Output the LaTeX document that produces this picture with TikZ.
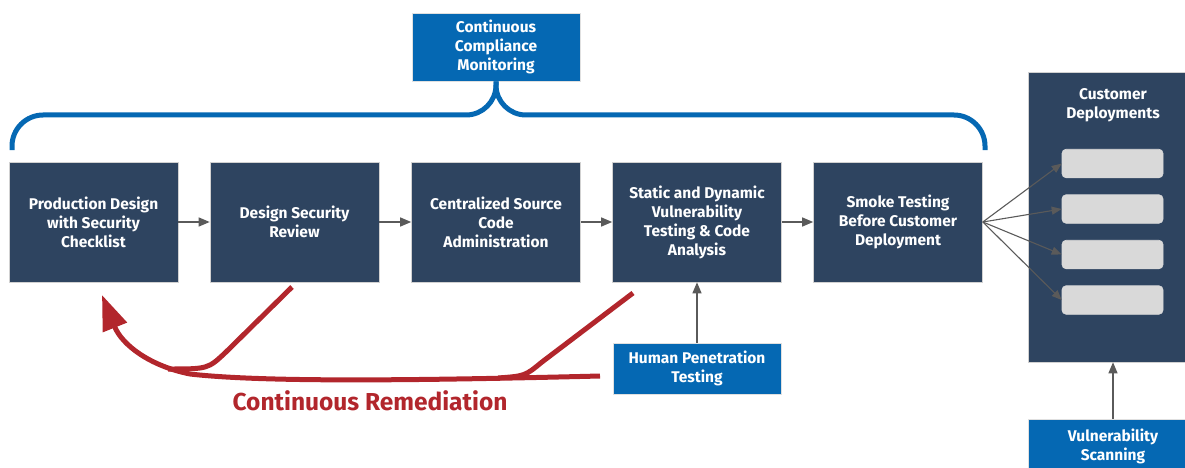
\documentclass[tikz,border=0pt]{standalone}
\usepackage{fontspec}
\setmainfont{Fira Sans}
\usetikzlibrary{arrows.meta,calc}
\definecolor{navy}{HTML}{2E4460}
\definecolor{brand}{HTML}{0568B3}
\definecolor{remed}{HTML}{B2262C}
\definecolor{slotgrey}{HTML}{D9D9D9}
\definecolor{flowgrey}{HTML}{5A5A5A}
\begin{document}
\begin{tikzpicture}[x=1pt,y=-1pt,
  boxfont/.style={font=\bfseries\fontsize{15.5}{19}\selectfont},
  stagebox/.style={boxfont, fill=navy, draw=black!18, line width=0.6pt,
    minimum width=169pt, minimum height=120pt, text=white, align=center, inner sep=2pt},
  bluebox/.style={boxfont, fill=brand, draw=black!12, line width=0.6pt,
    text=white, align=center, inner sep=2pt},
  slot/.style={fill=slotgrey, draw=white!85!black, line width=0.6pt, rounded corners=4pt,
    minimum width=101pt, minimum height=28.5pt, inner sep=0pt},
  whitetext/.style={boxfont, text=white, align=center, inner sep=0pt},
  flow/.style={draw=flowgrey, line width=1.3pt, -{Triangle[length=11pt,width=9pt]}},
  brace/.style={draw=brand, line width=5pt},
  remline/.style={draw=remed, line width=5pt},
  remtext/.style={text=remed, font=\bfseries\fontsize{24.5}{28}\selectfont, inner sep=0pt}
]
\useasboundingbox (0,0) rectangle (1185,468);

% main pipeline
\node[stagebox] (s1) at (93.5,222) {Production Design\\with Security\\Checklist};
\node[stagebox] (s2) at (294.5,222) {Design Security\\Review};
\node[stagebox] (s3) at (496,222) {Centralized Source\\Code\\Administration};
\node[stagebox] (s4) at (697,222) {Static and Dynamic\\Vulnerability\\Testing \& Code\\Analysis};
\node[stagebox] (s5) at (898,222) {Smoke Testing\\Before Customer\\Deployment};

\foreach \a/\b in {s1/s2, s2/s3, s3/s4, s4/s5}
  \draw[flow] (\a.east) -- (\b.west);

% compliance monitoring and its brace
\node[bluebox, minimum width=168pt, minimum height=68pt] (ccm) at (496,47)
  {Continuous\\Compliance\\Monitoring};
\draw[brace] (ccm.south) -- (496,85) .. controls (496,101.6) and (482.6,115) .. (466,115)
  -- (43,115) .. controls (26,115) and (12,129) .. (12,146) -- (12,150);
\draw[brace] (ccm.south) -- (496,85) .. controls (496,101.6) and (509.4,115) .. (526,115)
  -- (954,115) .. controls (971,115) and (985,129) .. (985,146) -- (985,150);

% customer deployments
\node[fill=navy, draw=black!18, line width=0.6pt, minimum width=157pt, minimum height=290pt,
  inner sep=0pt] (cd) at (1106.5,217) {};
\node[whitetext] (cdt) at (1113,105) {Customer\\Deployments};
\node[slot] (d1) at (1112.5,163.5) {};
\node[slot] (d2) at (1112.5,209) {};
\node[slot] (d3) at (1112.5,254.5) {};
\node[slot] (d4) at (1112.5,300) {};
\foreach \d in {d1,d2,d3,d4}
  \draw[flow, line width=1.1pt, -{Triangle[length=10pt,width=8pt]}] (s5.east) -- (\d.west);

% vulnerability scanning
\node[fill=brand, draw=black!12, line width=0.6pt, minimum width=157pt, minimum height=49pt,
  inner sep=0pt] (vs) at (1106.5,443.5) {};
\node[whitetext] (vst) at (1113,446.5) {Vulnerability\\Scanning};
\draw[flow] (vs.north -| cdt) -- (cd.south -| cdt);

% human penetration testing
\node[bluebox, minimum width=168pt, minimum height=51pt] (hpt) at (697,368.5)
  {Human Penetration\\Testing};
\draw[flow] (hpt.north) -- (s4.south);

% continuous remediation loop
\coordinate (r0) at (600,376);
\coordinate (r1) at (292,287);
\coordinate (r2) at (633,293);
\draw[remline, -{Triangle[length=35pt,width=25pt]}]
  (r0) .. controls (400,381) and (260,382) .. (190,374)
  .. controls (150,366) and (122,345) .. (102,295);
\draw[remline] (r1) -- (226,352) .. controls (208,369) .. (168,369);
\draw[remline] (r2) -- (542,362) .. controls (525,376) .. (498,378);
\node[remtext] (rl) at (370,401) {Continuous Remediation};
\end{tikzpicture}
\end{document}
